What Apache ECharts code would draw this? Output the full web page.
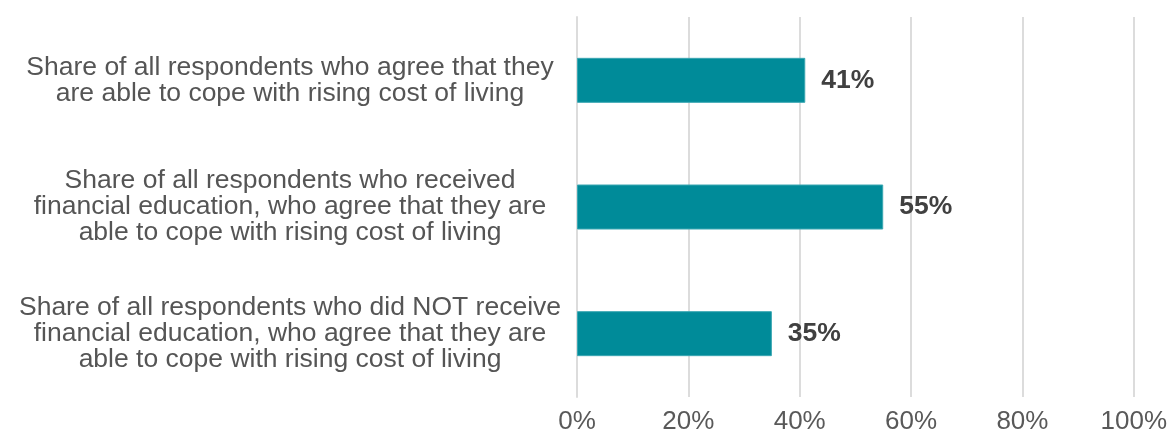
<!DOCTYPE html>
<html>
<head>
<meta charset="utf-8">
<script src="https://cdn.jsdelivr.net/npm/echarts@6/dist/echarts.min.js"></script>
<style>
  html, body { margin: 0; padding: 0; background: #ffffff; }
  #chart { width: 1170px; height: 435px; }
</style>
</head>
<body>
<div id="chart"></div>
<script>
// Respondent groups (top to bottom)
const categories = [
  'Share of all respondents who agree that they\nare able to cope with rising cost of living',
  'Share of all respondents who received\nfinancial education, who agree that they are\nable to cope with rising cost of living',
  'Share of all respondents who did NOT receive\nfinancial education, who agree that they are\nable to cope with rising cost of living'
];
// Share agreeing, in percent
const values = [41, 55, 35];
// Horizontal axis ticks (percent)
const axisMin = 0;
const axisMax = 100;
const axisStep = 20;

const chart = echarts.init(document.getElementById('chart'), null, { renderer: 'canvas' });

chart.setOption({
  animation: false,
  backgroundColor: '#ffffff',
  textStyle: { fontFamily: '"Liberation Sans", Arial, Helvetica, sans-serif' },
  grid: { left: 577, right: 35, top: 17, bottom: 38, containLabel: false },
  xAxis: {
    type: 'value',
    min: axisMin,
    max: axisMax,
    interval: axisStep,
    axisLine: { show: false },
    axisTick: { show: false },
    splitLine: { show: true, lineStyle: { color: '#dcdcdc', width: 2 } },
    axisLabel: {
      formatter: '{value}%',
      color: '#595959',
      fontSize: 26,
      margin: 12
    }
  },
  yAxis: {
    type: 'category',
    inverse: true,
    data: categories,
    axisLine: { show: true, lineStyle: { color: '#dcdcdc', width: 2 } },
    axisTick: { show: false },
    axisLabel: {
      color: '#555555',
      fontSize: 26.5,
      lineHeight: 26,
      align: 'center',
      margin: 287
    }
  },
  series: [{
    type: 'bar',
    data: values,
    barWidth: 45,
    itemStyle: { color: '#008b99', borderColor: '#3aa7b2', borderWidth: 1 },
    label: {
      show: true,
      position: 'right',
      distance: 16,
      formatter: '{c}%',
      color: '#404040',
      fontSize: 26.5,
      fontWeight: 'bold'
    }
  }]
});
</script>
</body>
</html>
